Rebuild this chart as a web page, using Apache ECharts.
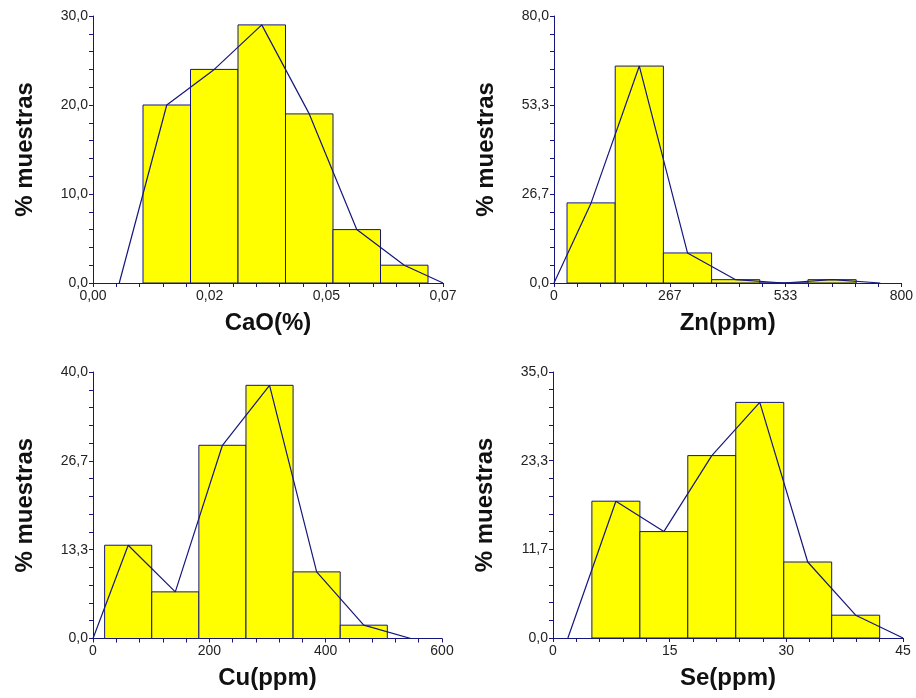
<!DOCTYPE html>
<html>
<head>
<meta charset="utf-8">
<script src="https://cdn.jsdelivr.net/npm/echarts@6/dist/echarts.min.js"></script>
<style>
  html, body { margin: 0; padding: 0; background: #fff; }
  #chart { width: 916px; height: 698px; }
</style>
</head>
<body>
<div id="chart"></div>
<script>
// Histogram bin edges and the percentage of samples in each bin
const caoBins = [0.0100, 0.0195, 0.0290, 0.0385, 0.0480, 0.0575, 0.0670];
const caoPct  = [20, 24, 29, 19, 6, 2];
const znBins  = [30, 141, 252, 363, 474, 585, 696];
const znPct   = [24, 65, 9, 1, 0, 1];
const cuBins  = [20, 101, 182, 263, 344, 425, 506];
const cuPct   = [14, 7, 29, 38, 10, 2];
const seBins  = [5, 11.17, 17.33, 23.5, 29.67, 35.83, 42];
const sePct   = [18, 14, 24, 31, 10, 3];

// Axis tick labels
const caoXLabels = ['0,00', '0,02', '0,05', '0,07'];
const caoYLabels = ['0,0', '10,0', '20,0', '30,0'];
const znXLabels  = ['0', '267', '533', '800'];
const znYLabels  = ['0,0', '26,7', '53,3', '80,0'];
const cuXLabels  = ['0', '200', '400', '600'];
const cuYLabels  = ['0,0', '13,3', '26,7', '40,0'];
const seXLabels  = ['0', '15', '30', '45'];
const seYLabels  = ['0,0', '11,7', '23,3', '35,0'];

const NAVY = '#16167e';
const FONT = 'Liberation Sans, Arial, Helvetica, sans-serif';

const panels = [
  { name: 'CaO(%)',  bins: caoBins, pct: caoPct, xMax: 0.07, yMax: 30, xLab: caoXLabels, yLab: caoYLabels,
    grid: { left: 93, top: 16, width: 350, height: 267 } },
  { name: 'Zn(ppm)', bins: znBins, pct: znPct, xMax: 800, yMax: 80, xLab: znXLabels, yLab: znYLabels,
    grid: { left: 554, top: 16, width: 349, height: 267 } },
  { name: 'Cu(ppm)', bins: cuBins, pct: cuPct, xMax: 600, yMax: 40, xLab: cuXLabels, yLab: cuYLabels,
    grid: { left: 93, top: 372, width: 349, height: 266.5 } },
  { name: 'Se(ppm)', bins: seBins, pct: sePct, xMax: 45, yMax: 35, xLab: seXLabels, yLab: seYLabels,
    grid: { left: 553, top: 372, width: 350, height: 266 } }
];

const grids = [], xAxes = [], yAxes = [], series = [];

panels.forEach((p, i) => {
  grids.push(Object.assign({ containLabel: false }, p.grid));

  const tickCommon = {
    axisLine: { show: true, lineStyle: { color: NAVY, width: 1 } },
    axisTick: { show: true, length: 4, lineStyle: { color: NAVY, width: 1 } },
    minorTick: { show: true, splitNumber: 5, length: 4, lineStyle: { color: NAVY, width: 1 } },
    splitLine: { show: false },
    minorSplitLine: { show: false }
  };

  xAxes.push(Object.assign({
    type: 'value', gridIndex: i, min: 0, max: p.xMax, interval: p.xMax / 3,
    name: p.name, nameLocation: 'middle', nameGap: 28,
    nameTextStyle: { fontFamily: FONT, fontSize: 24, fontWeight: 'bold', color: '#111' },
    axisLabel: {
      fontFamily: FONT, fontSize: 14, color: '#222', margin: 6,
      showMinLabel: true, showMaxLabel: true,
      formatter: (v, idx) => p.xLab[idx]
    }
  }, tickCommon));

  yAxes.push(Object.assign({
    type: 'value', gridIndex: i, min: 0, max: p.yMax, interval: p.yMax / 3,
    name: '% muestras', nameLocation: 'middle', nameGap: 56, nameRotate: 90,
    nameTextStyle: { fontFamily: FONT, fontSize: 24, fontWeight: 'bold', color: '#111' },
    axisLabel: {
      fontFamily: FONT, fontSize: 14, color: '#222', margin: 5,
      showMinLabel: true, showMaxLabel: true,
      formatter: (v, idx) => p.yLab[idx]
    }
  }, tickCommon));

  // histogram bars: [left edge, right edge, percentage]
  const barData = p.pct.map((v, k) => [p.bins[k], p.bins[k + 1], v]);
  series.push({
    type: 'custom', xAxisIndex: i, yAxisIndex: i,
    data: barData,
    encode: { x: [0, 1], y: 2 },
    renderItem: (params, api) => {
      const a = api.coord([api.value(0), api.value(2)]);
      const b = api.coord([api.value(1), 0]);
      return {
        type: 'rect',
        shape: { x: a[0], y: a[1], width: b[0] - a[0], height: b[1] - a[1] },
        style: { fill: '#ffff00', stroke: NAVY, lineWidth: 1 }
      };
    },
    z: 2
  });

  // frequency polygon through the bin midpoints, closed to zero half a bin outside
  const w0 = p.bins[1] - p.bins[0];
  const wN = p.bins[p.bins.length - 1] - p.bins[p.bins.length - 2];
  const poly = [[Math.max(0, p.bins[0] - w0 / 2), 0]];
  p.pct.forEach((v, k) => poly.push([(p.bins[k] + p.bins[k + 1]) / 2, v]));
  poly.push([Math.min(p.xMax, p.bins[p.bins.length - 1] + wN / 2), 0]);
  series.push({
    type: 'line', xAxisIndex: i, yAxisIndex: i,
    data: poly, symbol: 'none', silent: true,
    lineStyle: { color: NAVY, width: 1.2 },
    z: 3
  });
});

const chart = echarts.init(document.getElementById('chart'), null, { renderer: 'canvas' });
chart.setOption({
  backgroundColor: '#ffffff',
  animation: false,
  grid: grids,
  xAxis: xAxes,
  yAxis: yAxes,
  series: series
});
</script>
</body>
</html>
